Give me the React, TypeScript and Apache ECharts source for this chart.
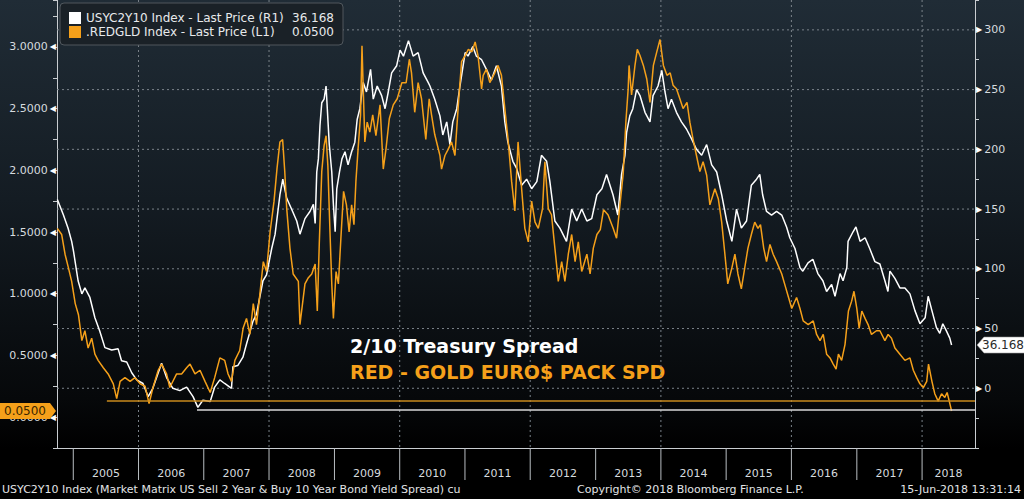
import * as echarts from "echarts";
import { useEffect, useRef } from "react";

const FONT = "DejaVu Sans";

// visible time window of the chart and the year boundaries under it
const xStart = "2004-10-02";
const xEnd = "2018-10-24";
const years = [2005, 2006, 2007, 2008, 2009, 2010, 2011, 2012, 2013, 2014, 2015, 2016, 2017, 2018];

const whiteName = "USYC2Y10 Index - Last Price (R1)";
const orangeName = ".REDGLD Index - Last Price (L1)";

// USYC2Y10 Index, basis points (right axis)
const usyc2y10: [string, number][] = [
  ["2004-10-04", 158], ["2004-11-07", 145], ["2004-12-03", 134], ["2004-12-23", 123], ["2005-01-02", 115],
  ["2005-01-28", 90], ["2005-02-18", 79], ["2005-03-07", 84], ["2005-04-04", 76], ["2005-05-02", 59],
  ["2005-05-29", 48], ["2005-06-27", 34], ["2005-08-04", 32], ["2005-09-09", 33], ["2005-09-28", 23],
  ["2005-10-27", 22], ["2005-11-24", 13], ["2005-12-22", 7], ["2006-01-26", 4], ["2006-02-24", -7],
  ["2006-03-22", 0], ["2006-05-10", 21], ["2006-06-07", 9], ["2006-07-12", 0], ["2006-08-20", -2],
  ["2006-09-27", 1], ["2006-11-02", -7], ["2006-11-29", -16], ["2006-12-27", -10], ["2007-02-06", -11],
  ["2007-03-03", 1], ["2007-04-01", 7], ["2007-04-28", 4], ["2007-06-05", 0], ["2007-06-13", 18],
  ["2007-07-10", 19], ["2007-08-08", 26], ["2007-08-28", 37], ["2007-10-03", 56], ["2007-10-23", 62],
  ["2007-11-28", 90], ["2007-12-18", 95], ["2008-01-16", 117], ["2008-02-04", 129], ["2008-03-02", 162],
  ["2008-03-18", 175], ["2008-04-09", 159], ["2008-05-06", 150], ["2008-06-04", 140], ["2008-06-22", 129],
  ["2008-07-20", 142], ["2008-08-17", 148], ["2008-09-05", 154], ["2008-09-15", 138], ["2008-09-24", 181],
  ["2008-10-03", 192], ["2008-10-12", 220], ["2008-10-22", 239], ["2008-11-04", 242], ["2008-11-15", 253],
  ["2008-11-22", 234], ["2008-12-03", 204], ["2008-12-17", 181], ["2008-12-26", 154], ["2009-01-05", 131],
  ["2009-01-14", 167], ["2009-01-29", 181], ["2009-02-12", 192], ["2009-03-01", 198], ["2009-03-18", 187],
  ["2009-04-07", 198], ["2009-04-25", 206], ["2009-05-08", 225], ["2009-05-23", 234], ["2009-06-11", 256],
  ["2009-06-29", 248], ["2009-07-22", 267], ["2009-08-06", 242], ["2009-08-28", 253], ["2009-09-22", 245],
  ["2009-10-11", 234], ["2009-10-29", 248], ["2009-11-17", 264], ["2009-12-15", 270], ["2010-01-03", 283],
  ["2010-01-22", 278], ["2010-02-19", 291], ["2010-03-17", 278], ["2010-04-14", 281], ["2010-05-12", 264],
  ["2010-06-09", 256], ["2010-06-19", 253], ["2010-07-16", 242], ["2010-08-14", 228], ["2010-08-30", 212],
  ["2010-09-21", 223], ["2010-10-09", 204], ["2010-10-25", 223], ["2010-11-16", 234], ["2010-12-04", 253],
  ["2011-01-02", 281], ["2011-01-18", 278], ["2011-02-14", 286], ["2011-03-06", 278], ["2011-04-04", 275],
  ["2011-05-01", 267], ["2011-05-29", 258], ["2011-06-26", 270], ["2011-07-24", 253], ["2011-08-12", 223],
  ["2011-08-29", 206], ["2011-09-26", 190], ["2011-10-17", 184], ["2011-11-14", 170], ["2011-12-12", 175],
  ["2012-01-09", 167], ["2012-02-07", 173], ["2012-03-04", 195], ["2012-04-02", 190], ["2012-04-20", 173],
  ["2012-05-18", 140], ["2012-06-15", 134], ["2012-07-22", 123], ["2012-08-20", 150], ["2012-09-17", 140],
  ["2012-10-15", 150], ["2012-11-13", 140], ["2012-12-10", 142], ["2013-01-08", 162], ["2013-02-05", 167],
  ["2013-03-03", 179], ["2013-04-08", 162], ["2013-05-05", 145], ["2013-05-26", 179], ["2013-06-14", 195],
  ["2013-06-23", 214], ["2013-07-11", 228], ["2013-07-28", 234], ["2013-08-18", 250], ["2013-09-06", 245],
  ["2013-10-04", 231], ["2013-11-01", 223], ["2013-11-18", 245], ["2013-12-16", 253], ["2014-01-06", 266],
  ["2014-01-24", 248], ["2014-02-10", 234], ["2014-03-01", 242], ["2014-03-29", 231], ["2014-04-26", 223],
  ["2014-05-24", 217], ["2014-06-21", 209], ["2014-07-19", 200], ["2014-08-17", 195], ["2014-09-14", 204],
  ["2014-10-12", 187], ["2014-11-09", 181], ["2014-12-07", 162], ["2015-01-04", 140], ["2015-02-02", 123],
  ["2015-02-28", 150], ["2015-03-27", 134], ["2015-04-25", 140], ["2015-05-22", 170], ["2015-06-20", 175],
  ["2015-07-08", 179], ["2015-07-24", 162], ["2015-08-15", 148], ["2015-09-12", 145], ["2015-10-10", 148],
  ["2015-11-08", 145], ["2015-12-05", 135], ["2015-12-23", 126], ["2016-01-21", 117], ["2016-02-18", 101],
  ["2016-03-05", 98], ["2016-04-03", 105], ["2016-04-30", 108], ["2016-05-28", 96], ["2016-06-25", 90],
  ["2016-07-16", 81], ["2016-08-13", 87], ["2016-09-01", 77], ["2016-09-29", 96], ["2016-10-16", 90],
  ["2016-11-06", 101], ["2016-11-13", 123], ["2016-12-11", 131], ["2016-12-27", 135], ["2017-01-19", 123],
  ["2017-02-16", 126], ["2017-03-14", 117], ["2017-04-12", 106], ["2017-05-10", 104], ["2017-06-07", 90],
  ["2017-06-24", 81], ["2017-07-05", 98], ["2017-08-02", 92], ["2017-08-30", 84], ["2017-09-27", 84],
  ["2017-10-25", 79], ["2017-11-22", 65], ["2017-12-20", 54], ["2018-01-18", 59], ["2018-02-04", 77],
  ["2018-02-25", 65], ["2018-03-22", 51], ["2018-04-10", 46], ["2018-04-27", 54], ["2018-05-17", 48],
  ["2018-06-05", 42], ["2018-06-15", 36.168],
];

// .REDGLD Index (left axis)
const redgld: [string, number][] = [
  ["2004-10-04", 1.53], ["2004-10-28", 1.48], ["2004-11-16", 1.32], ["2004-12-05", 1.21], ["2004-12-23", 1.1],
  ["2005-01-12", 0.92], ["2005-01-30", 0.83], ["2005-02-18", 0.62], ["2005-03-07", 0.7], ["2005-03-25", 0.56],
  ["2005-04-14", 0.64], ["2005-05-02", 0.51], ["2005-05-20", 0.46], ["2005-06-18", 0.4], ["2005-07-15", 0.35],
  ["2005-08-13", 0.27], ["2005-09-01", 0.15], ["2005-09-20", 0.29], ["2005-10-17", 0.32], ["2005-11-15", 0.29],
  ["2005-12-12", 0.32], ["2006-01-10", 0.27], ["2006-02-07", 0.25], ["2006-03-01", 0.11], ["2006-03-23", 0.24],
  ["2006-04-21", 0.38], ["2006-05-10", 0.43], ["2006-06-07", 0.35], ["2006-06-25", 0.24], ["2006-08-02", 0.35],
  ["2006-08-30", 0.35], ["2006-09-27", 0.4], ["2006-10-16", 0.43], ["2006-11-13", 0.35], ["2006-12-11", 0.38],
  ["2007-01-08", 0.29], ["2007-02-06", 0.2], ["2007-03-03", 0.32], ["2007-04-01", 0.48], ["2007-04-28", 0.46],
  ["2007-05-17", 0.35], ["2007-06-05", 0.29], ["2007-06-24", 0.46], ["2007-07-21", 0.54], ["2007-08-09", 0.72],
  ["2007-08-28", 0.8], ["2007-09-16", 0.67], ["2007-10-05", 0.92], ["2007-10-23", 0.75], ["2007-11-11", 1.0],
  ["2007-11-30", 1.26], ["2007-12-18", 1.18], ["2008-01-07", 1.5], ["2008-01-29", 1.75], ["2008-02-15", 2.02],
  ["2008-03-02", 2.23], ["2008-03-17", 2.25], ["2008-03-29", 1.99], ["2008-04-09", 1.69], ["2008-04-27", 1.37],
  ["2008-05-15", 1.16], ["2008-06-13", 1.1], ["2008-06-22", 0.75], ["2008-07-20", 1.08], ["2008-08-08", 1.13],
  ["2008-08-27", 1.16], ["2008-09-15", 1.24], ["2008-09-27", 0.86], ["2008-10-08", 1.4], ["2008-10-22", 1.99],
  ["2008-11-04", 2.2], ["2008-11-15", 2.28], ["2008-11-25", 2.04], ["2008-12-07", 1.5], ["2008-12-17", 1.08],
  ["2008-12-26", 0.8], ["2009-01-10", 1.18], ["2009-01-23", 1.08], ["2009-02-06", 1.45], ["2009-02-21", 1.83],
  ["2009-03-09", 1.72], ["2009-03-24", 1.5], ["2009-04-07", 1.72], ["2009-04-20", 1.56], ["2009-05-01", 1.91],
  ["2009-05-13", 2.17], ["2009-05-27", 2.45], ["2009-06-04", 3.01], ["2009-06-11", 2.66], ["2009-06-20", 2.23],
  ["2009-07-03", 2.39], ["2009-07-18", 2.31], ["2009-08-03", 2.45], ["2009-08-21", 2.28], ["2009-09-13", 2.53],
  ["2009-10-01", 2.01], ["2009-10-16", 2.17], ["2009-11-04", 2.42], ["2009-11-26", 2.53], ["2009-12-18", 2.58],
  ["2010-01-13", 2.71], ["2010-02-06", 2.71], ["2010-02-24", 2.9], ["2010-03-08", 2.79], ["2010-03-26", 2.47],
  ["2010-04-14", 2.71], ["2010-05-03", 2.58], ["2010-05-27", 2.25], ["2010-06-15", 2.58], ["2010-06-28", 2.45],
  ["2010-07-16", 2.29], ["2010-08-14", 2.12], ["2010-08-23", 2.01], ["2010-09-11", 2.12], ["2010-09-29", 2.17],
  ["2010-10-18", 2.23], ["2010-11-06", 2.12], ["2010-11-25", 2.53], ["2010-12-13", 2.88], ["2011-01-02", 2.93],
  ["2011-01-20", 2.98], ["2011-02-09", 2.96], ["2011-02-27", 3.04], ["2011-03-15", 2.93], ["2011-04-04", 2.66],
  ["2011-04-13", 2.77], ["2011-05-01", 2.82], ["2011-05-20", 2.71], ["2011-06-17", 2.79], ["2011-07-05", 2.85],
  ["2011-07-24", 2.77], ["2011-08-12", 2.5], ["2011-08-30", 2.25], ["2011-09-19", 1.91], ["2011-10-07", 1.67],
  ["2011-10-25", 2.23], ["2011-11-14", 1.85], ["2011-12-02", 1.53], ["2011-12-21", 1.42], ["2012-01-09", 1.75],
  ["2012-01-28", 1.58], ["2012-02-15", 1.53], ["2012-03-10", 1.69], ["2012-03-23", 2.07], ["2012-04-11", 1.69],
  ["2012-04-29", 1.64], ["2012-05-18", 1.37], ["2012-06-06", 1.1], ["2012-06-25", 1.26], ["2012-07-13", 1.1],
  ["2012-08-01", 1.32], ["2012-08-20", 1.48], ["2012-09-08", 1.26], ["2012-09-26", 1.42], ["2012-10-15", 1.18],
  ["2012-11-13", 1.32], ["2012-12-01", 1.16], ["2012-12-19", 1.37], ["2013-01-08", 1.48], ["2013-01-27", 1.52],
  ["2013-02-14", 1.68], ["2013-03-11", 1.64], ["2013-04-09", 1.53], ["2013-04-28", 1.45], ["2013-05-17", 1.72],
  ["2013-06-04", 1.97], ["2013-06-19", 2.39], ["2013-07-02", 2.66], ["2013-07-07", 2.85], ["2013-07-21", 2.61],
  ["2013-08-09", 2.85], ["2013-08-22", 2.98], ["2013-09-06", 2.93], ["2013-09-25", 2.85], ["2013-10-14", 2.74],
  ["2013-11-01", 2.55], ["2013-11-20", 2.85], ["2013-12-09", 2.96], ["2013-12-27", 3.06], ["2014-01-15", 2.85],
  ["2014-02-04", 2.77], ["2014-02-22", 2.79], ["2014-03-10", 2.69], ["2014-03-29", 2.66], ["2014-04-17", 2.58],
  ["2014-05-05", 2.5], ["2014-05-27", 2.55], ["2014-06-12", 2.39], ["2014-06-30", 2.25], ["2014-07-19", 2.12],
  ["2014-08-07", 1.99], ["2014-08-25", 2.07], ["2014-09-14", 1.96], ["2014-10-02", 1.72], ["2014-10-30", 1.85],
  ["2014-11-18", 1.77], ["2014-12-07", 1.58], ["2014-12-25", 1.32], ["2015-01-10", 1.08], ["2015-02-02", 1.21],
  ["2015-02-19", 1.32], ["2015-03-08", 1.16], ["2015-03-27", 1.04], ["2015-04-15", 1.21], ["2015-05-03", 1.37],
  ["2015-05-22", 1.48], ["2015-06-10", 1.58], ["2015-06-28", 1.53], ["2015-07-12", 1.56], ["2015-07-30", 1.37],
  ["2015-08-15", 1.26], ["2015-09-03", 1.4], ["2015-09-21", 1.32], ["2015-10-10", 1.26], ["2015-11-08", 1.16],
  ["2015-11-26", 1.07], ["2015-12-14", 0.98], ["2016-01-03", 0.88], ["2016-01-30", 0.97], ["2016-02-18", 0.88],
  ["2016-03-07", 0.78], ["2016-04-04", 0.75], ["2016-05-02", 0.78], ["2016-05-21", 0.67], ["2016-06-09", 0.62],
  ["2016-06-27", 0.67], ["2016-07-16", 0.51], ["2016-08-04", 0.48], ["2016-08-22", 0.43], ["2016-09-07", 0.39],
  ["2016-09-20", 0.51], ["2016-10-08", 0.46], ["2016-10-27", 0.59], ["2016-11-15", 0.86], ["2016-12-03", 0.94],
  ["2016-12-16", 1.02], ["2017-01-01", 0.88], ["2017-01-14", 0.72], ["2017-01-29", 0.86], ["2017-02-16", 0.8],
  ["2017-03-05", 0.75], ["2017-03-24", 0.67], ["2017-04-21", 0.7], ["2017-05-10", 0.7], ["2017-06-07", 0.62],
  ["2017-06-25", 0.67], ["2017-07-14", 0.64], ["2017-08-02", 0.56], ["2017-08-30", 0.51], ["2017-09-27", 0.46],
  ["2017-10-25", 0.48], ["2017-11-13", 0.38], ["2017-12-02", 0.32], ["2017-12-20", 0.27], ["2018-01-08", 0.24],
  ["2018-01-27", 0.29], ["2018-02-06", 0.43], ["2018-02-25", 0.29], ["2018-03-13", 0.19], ["2018-04-01", 0.13],
  ["2018-04-20", 0.19], ["2018-05-08", 0.16], ["2018-05-21", 0.2], ["2018-06-02", 0.13], ["2018-06-15", 0.05],
];

// horizontal support lines drawn on the chart
const redgldSupport: [string, number] = ["2005-07-08", 0.133];
const usycSupport: [string, number] = ["2006-11-24", -18.3];

const rightGridLevels = [0, 50, 100, 150, 200, 250, 300];

const toTime = (s: string) => {
  const [y, m, d] = s.split("-").map(Number);
  return new Date(y, m - 1, d).getTime();
};

export default function App() {
  const chartRef = useRef<HTMLDivElement | null>(null);

  useEffect(() => {
    if (!chartRef.current) return;
    const chart = echarts.init(chartRef.current, null, { renderer: "svg" });

    const xMin = toTime(xStart);
    const xMax = toTime(xEnd);
    const lastWhite = usyc2y10[usyc2y10.length - 1][1];
    const lastOrange = redgld[redgld.length - 1][1];
    const axisColor = "#c9cdd1";
    const labelColor = "#d6dbdf";
    const gridColor = "#7b838a";

    const option: any = {
      animation: false,
      backgroundColor: new echarts.graphic.LinearGradient(0, 0, 0, 1, [
        { offset: 0, color: "#202c36" },
        { offset: 0.4, color: "#141c23" },
        { offset: 0.8, color: "#06080a" },
        { offset: 0.9, color: "#000000" },
      ]),
      textStyle: { fontFamily: FONT },
      grid: { left: 57, right: 49, top: -3, bottom: 51 },
      legend: {
        data: [whiteName, orangeName],
        orient: "vertical",
        left: 60,
        top: 3,
        padding: [9, 9, 7, 9],
        itemGap: 2,
        itemWidth: 12,
        itemHeight: 12,
        icon: "rect",
        selectedMode: false,
        backgroundColor: "#1a2127",
        borderColor: "#50575d",
        borderWidth: 1,
        borderRadius: 4,
        formatter: (name: string) =>
          `{n|${name}}{v|${name === whiteName ? lastWhite.toFixed(3) : lastOrange.toFixed(4)}}`,
        textStyle: {
          color: "#e8eaec",
          fontFamily: FONT,
          fontSize: 12,
          rich: {
            n: { width: 208, color: "#e8eaec", fontFamily: FONT, fontSize: 12 },
            v: { width: 40, align: "right", color: "#e8eaec", fontFamily: FONT, fontSize: 12 },
          },
        },
      },
      xAxis: {
        type: "time",
        min: xMin,
        max: xMax,
        axisLine: { onZero: false, lineStyle: { color: axisColor, width: 1 } },
        axisTick: { show: false },
        axisLabel: { show: false },
        splitLine: { show: false },
      },
      yAxis: [
        {
          type: "value",
          position: "left",
          min: -0.25,
          max: 3.38,
          interval: 0.25,
          axisLine: { show: true, onZero: false, lineStyle: { color: axisColor } },
          axisTick: { show: true, length: 4, lineStyle: { color: axisColor } },
          splitLine: { show: false },
          axisLabel: {
            margin: 1,
            formatter: (v: number) => {
              const k = Math.round(v * 100);
              if (k % 50 !== 0 || k < 0 || k > 300) return "";
              return `{v|${v.toFixed(4)}}{t|◀}`;
            },
            rich: {
              v: { color: labelColor, fontFamily: FONT, fontSize: 11, padding: [0, 2, 0, 0] },
              t: { color: "#ffffff", fontFamily: FONT, fontSize: 8 },
            },
          },
        },
        {
          type: "value",
          position: "right",
          min: -50,
          max: 325,
          interval: 25,
          axisLine: { show: true, onZero: false, lineStyle: { color: axisColor } },
          axisTick: { show: true, length: 4, lineStyle: { color: axisColor } },
          splitLine: { show: false },
          axisLabel: {
            margin: 1,
            formatter: (v: number) => {
              if (v % 50 !== 0 || v < 0 || v > 300) return "";
              return `{t|▶}{v|${v}}`;
            },
            rich: {
              v: { color: labelColor, fontFamily: FONT, fontSize: 11, padding: [0, 0, 0, 2] },
              t: { color: "#ffffff", fontFamily: FONT, fontSize: 8 },
            },
          },
        },
      ],
      series: [
        {
          // year ticks below the axis, labels between them, dotted verticals every 2 years
          type: "custom",
          silent: true,
          z: 1,
          xAxisIndex: 0,
          yAxisIndex: 0,
          data: years.map((y) => [`${y}-01-01`, -0.25]),
          renderItem: (params: any, api: any) => {
            const t = api.value(0);
            const yr = new Date(t).getFullYear();
            const cs = params.coordSys;
            const x = api.coord([t, 0])[0];
            const xn = Math.min(api.coord([new Date(yr + 1, 0, 1).getTime(), 0])[0], cs.x + cs.width);
            const bottom = cs.y + cs.height;
            const children: any[] = [
              {
                type: "line",
                shape: { x1: x, y1: bottom, x2: x, y2: bottom + 32 },
                style: { stroke: "#b9bec2", lineWidth: 1 },
              },
              {
                type: "text",
                style: {
                  text: String(yr),
                  x: (x + xn) / 2,
                  y: 473.5,
                  align: "center",
                  verticalAlign: "middle",
                  fill: labelColor,
                  fontFamily: FONT,
                  fontSize: 11,
                },
              },
            ];
            if (yr % 2 === 0) {
              children.push({
                type: "line",
                shape: { x1: x, y1: cs.y, x2: x, y2: bottom },
                style: { stroke: gridColor, lineWidth: 1, lineDash: [2, 3] },
              });
            }
            return { type: "group", children };
          },
        },
        {
          // dotted horizontals at the right-axis levels
          type: "custom",
          silent: true,
          z: 1,
          xAxisIndex: 0,
          yAxisIndex: 1,
          data: rightGridLevels.map((v) => [xStart, v]),
          renderItem: (params: any, api: any) => {
            const cs = params.coordSys;
            const y = api.coord([api.value(0), api.value(1)])[1];
            return {
              type: "line",
              shape: { x1: cs.x, y1: y, x2: cs.x + cs.width, y2: y },
              style: { stroke: gridColor, lineWidth: 1, lineDash: [2, 3] },
            };
          },
        },
        {
          name: whiteName,
          type: "line",
          yAxisIndex: 1,
          data: usyc2y10,
          symbol: "none",
          z: 3,
          lineStyle: { color: "#ffffff", width: 1.5 },
          itemStyle: { color: "#ffffff" },
          markLine: {
            silent: true,
            symbol: ["none", "none"],
            label: { show: false },
            data: [
              [
                { coord: [toTime(usycSupport[0]), usycSupport[1]], lineStyle: { color: "#d8d8d8", width: 1.5, type: "solid" } },
                { coord: [xMax, usycSupport[1]] },
              ],
            ],
          },
          markPoint: {
            silent: true,
            symbol: "path://M0,8L7,0H48V16H7Z",
            symbolSize: [48, 16],
            symbolOffset: [26, 0],
            itemStyle: { color: "#ffffff", borderColor: "#9a9a9a", borderWidth: 0.5 },
            label: { show: true, formatter: lastWhite.toFixed(3), color: "#2b2b2b", fontFamily: FONT, fontSize: 12, offset: [2, 0] },
            data: [{ coord: [xMax, lastWhite] }],
          },
        },
        {
          name: orangeName,
          type: "line",
          yAxisIndex: 0,
          data: redgld,
          symbol: "none",
          z: 4,
          lineStyle: { color: "#f5a01a", width: 1.5 },
          itemStyle: { color: "#f5a01a" },
          markLine: {
            silent: true,
            symbol: ["none", "none"],
            label: { show: false },
            data: [
              [
                { coord: [toTime(redgldSupport[0]), redgldSupport[1]], lineStyle: { color: "#c98a1c", width: 1.5, type: "solid" } },
                { coord: [xMax, redgldSupport[1]] },
              ],
            ],
          },
          markPoint: {
            silent: true,
            symbol: "path://M0,0H50L56,8L50,16H0Z",
            symbolSize: [56, 16],
            symbolOffset: [-29, 0],
            itemStyle: { color: "#f5a01a" },
            label: { show: true, formatter: lastOrange.toFixed(4), color: "#3a2600", fontFamily: FONT, fontSize: 12, offset: [-3, 0] },
            data: [{ coord: [xMin, lastOrange] }],
          },
        },
      ],
      graphic: [
        {
          type: "text",
          x: 350,
          y: 346,
          style: { text: "2/10 Treasury Spread", fill: "#ffffff", fontFamily: FONT, fontSize: 19, fontWeight: "bold", verticalAlign: "middle" },
        },
        {
          type: "text",
          x: 350,
          y: 371.5,
          style: { text: "RED - GOLD EURO$ PACK SPD", fill: "#f5a01a", fontFamily: FONT, fontSize: 19, fontWeight: "bold", verticalAlign: "middle" },
        },
        {
          type: "text",
          x: 2,
          y: 489,
          style: {
            text: "USYC2Y10 Index (Market Matrix US Sell 2 Year & Buy 10 Year Bond Yield Spread) cu",
            fill: "#e2e4e6",
            fontFamily: FONT,
            fontSize: 11,
            verticalAlign: "middle",
          },
        },
        {
          type: "text",
          x: 577,
          y: 489,
          style: { text: "Copyright© 2018 Bloomberg Finance L.P.", fill: "#e2e4e6", fontFamily: FONT, fontSize: 11, verticalAlign: "middle" },
        },
        {
          type: "text",
          x: 1021,
          y: 489,
          style: { text: "15-Jun-2018 13:31:14", fill: "#e2e4e6", fontFamily: FONT, fontSize: 11, align: "right", verticalAlign: "middle" },
        },
      ],
    };

    chart.setOption(option);
    return () => {
      chart.dispose();
    };
  }, []);

  return (
    <div
      ref={chartRef}
      style={{ position: "fixed", left: 0, top: 0, width: 1024, height: 499 }}
    />
  );
}
